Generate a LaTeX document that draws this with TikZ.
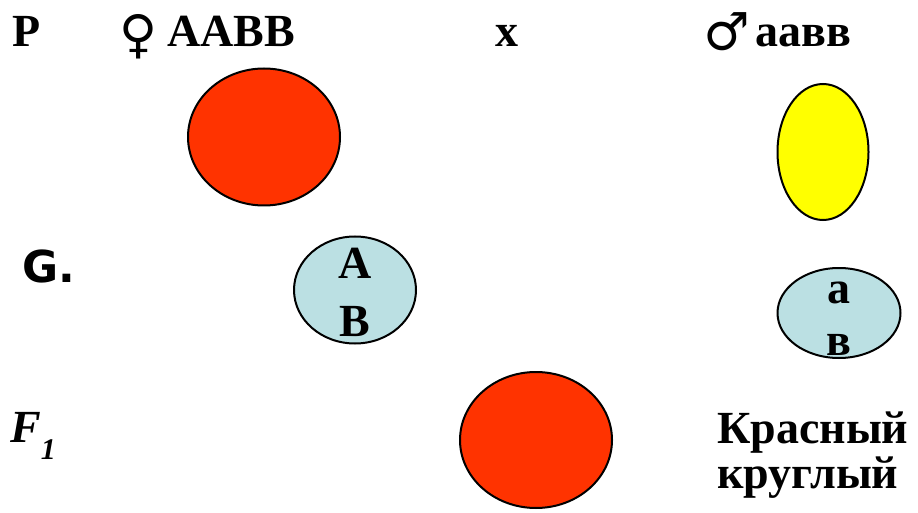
\documentclass[tikz,border=0pt]{standalone}
\usepackage{fontspec}
\setmainfont{Liberation Serif}
\newfontfamily\symfont{DejaVu Serif}
\newfontfamily\heavyfont{DejaVu Sans}
\usetikzlibrary{shapes.geometric}
\definecolor{seedred}{HTML}{FF3300}
\definecolor{seedyellow}{HTML}{FFFF00}
\definecolor{gametecol}{HTML}{BBE0E3}

\begin{document}
\begin{tikzpicture}[
    x=1pt, y=-1pt,
    lbl/.style={inner sep=0pt, anchor=base west, font=\fontsize{46}{46}\selectfont\bfseries},
    sym/.style={inner sep=0pt, anchor=base west, font=\fontsize{52}{52}\selectfont\symfont},
    allele/.style={inner sep=0pt, anchor=base, font=\fontsize{46}{46}\selectfont\bfseries},
    cell/.style={draw, ellipse, line width=2pt, inner sep=0pt}
]
\useasboundingbox (0,0) rectangle (918,513);
% parents
\node[lbl] (p) at (12,47) {P};
\node[sym] (female) at (119,53) {♀};
\node[lbl] (mother) at (167,47) {AABB};
\node[lbl] (cross) at (495,47) {x};
\node[sym] (male) at (703,51) {♂};
\node[lbl] (father) at (755,47) {аавв};
\node[cell, fill=seedred, minimum width=152pt, minimum height=137pt] (seedA) at (264,137) {};
\node[cell, fill=seedyellow, minimum width=91pt, minimum height=136pt] (seedB) at (823,152) {};
% gametes
\node[inner sep=0pt, anchor=base west, font=\fontsize{44}{44}\selectfont\heavyfont\bfseries] (g) at (22,282) {G.};
\node[cell, fill=gametecol, minimum width=122pt, minimum height=107pt] (gamA) at (355,290) {};
\node[allele] (gA1) at (355,278) {A};
\node[allele] (gA2) at (355,336) {B};
\node[cell, fill=gametecol, minimum width=123pt, minimum height=90pt] (gamB) at (839,313) {};
\node[allele] (gB1) at (839,303) {а};
\node[allele] (gB2) at (839,355) {в};
% offspring
\node[lbl, font=\fontsize{46}{46}\selectfont\bfseries\itshape] (f1) at (10,442) {F\raisebox{-17pt}{\fontsize{30}{30}\selectfont 1}};
\node[cell, fill=seedred, minimum width=152pt, minimum height=136pt] (seedF) at (536,440) {};
\node[lbl] (colour) at (717,443) {Красный};
\node[lbl] (form) at (717,488) {круглый};
\end{tikzpicture}
\end{document}
